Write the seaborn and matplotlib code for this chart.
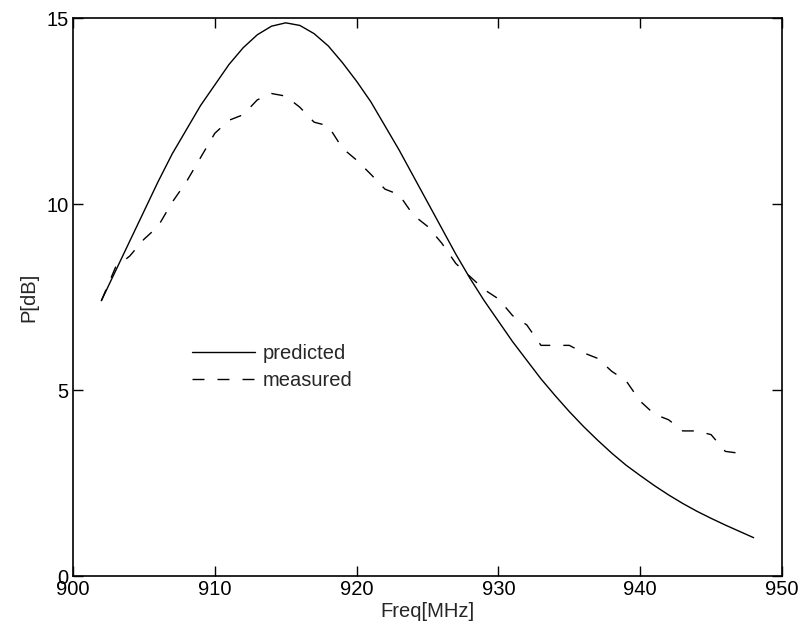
import numpy as np
import pandas as pd
import seaborn as sns
import matplotlib
matplotlib.use("Agg")
import matplotlib.pyplot as plt

# ---- data ----
freq_pred = list(range(902, 949))
p_pred = [7.4, 8.2, 9.0, 9.8, 10.6, 11.35, 12.0, 12.65, 13.2, 13.75,
          14.2, 14.55, 14.78, 14.87, 14.8, 14.58, 14.25, 13.8, 13.3, 12.75,
          12.1, 11.45, 10.75, 10.05, 9.35, 8.65, 8.0, 7.4, 6.85, 6.3,
          5.8, 5.3, 4.85, 4.42, 4.02, 3.65, 3.3, 2.98, 2.7, 2.43,
          2.18, 1.95, 1.74, 1.55, 1.37, 1.2, 1.03]

freq_meas = list(range(902, 948))
p_meas = [7.4, 8.3, 8.6, 9.05, 9.4, 10.05, 10.6, 11.25, 11.9, 12.25,
          12.4, 12.8, 12.97, 12.9, 12.6, 12.2, 12.1, 11.5, 11.18, 10.8,
          10.4, 10.25, 9.7, 9.4, 8.95, 8.4, 8.05, 7.7, 7.45, 7.0,
          6.75, 6.2, 6.2, 6.2, 6.0, 5.85, 5.5, 5.25, 4.7, 4.35,
          4.2, 3.9, 3.9, 3.8, 3.35, 3.3]

xticks = [900, 910, 920, 930, 940, 950]
yticks = [0, 5, 10, 15]
labels = ["predicted", "measured"]

sns.set_style("white")
plt.rcParams['font.family'] = ['Liberation Sans', 'DejaVu Sans']
FS = 14.5

df = pd.concat([
    pd.DataFrame({"f": freq_pred, "p": p_pred, "s": labels[0]}),
    pd.DataFrame({"f": freq_meas, "p": p_meas, "s": labels[1]}),
])

fig = plt.figure(figsize=(8.04, 6.37), dpi=100)
ax = fig.add_axes([73/804, 1-576/637, (782-73)/804, (576-18)/637])

sns.lineplot(data=df, x="f", y="p", hue="s", style="s",
             palette={labels[0]: "black", labels[1]: "black"},
             dashes={labels[0]: "", labels[1]: (8.6, 9.4)},
             linewidth=1.0, ax=ax, legend=True)

ax.set_xlim(900, 950)
ax.set_ylim(0, 15)
ax.set_xticks(xticks)
ax.set_yticks(yticks)
ax.set_xticklabels([str(t) for t in xticks], fontsize=FS)
ax.set_yticklabels([str(t) for t in yticks], fontsize=FS)
ax.tick_params(direction="in", length=7, width=1, top=True, right=True,
               bottom=True, left=True, pad=3, colors="black")
for s in ax.spines.values():
    s.set_visible(True)
    s.set_color("black")
    s.set_linewidth(1.2)
ax.set_xlabel("Freq[MHz]", fontsize=FS, labelpad=2)
ax.set_ylabel("P[dB]", fontsize=FS, labelpad=6)

handles, labs = ax.get_legend_handles_labels()
ax.legend(handles, labs, loc="center left",
          bbox_to_anchor=((192-73)/709, (576-367)/558),
          frameon=False, fontsize=FS, borderpad=0, borderaxespad=0,
          handlelength=3.13, handletextpad=0.4, labelspacing=0.4)

fig.savefig("out.png", dpi=100)
